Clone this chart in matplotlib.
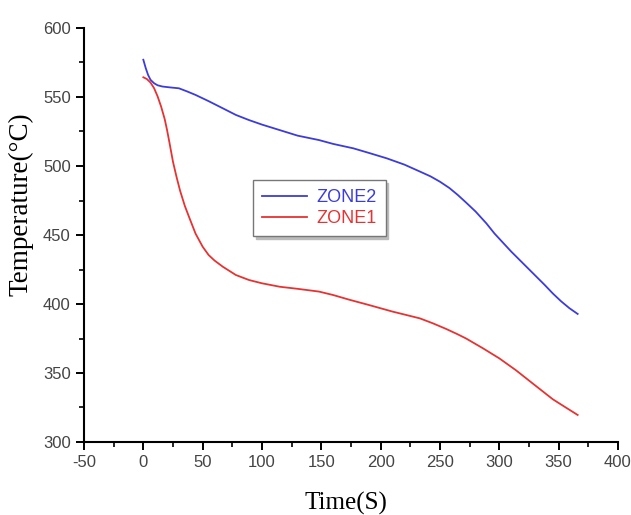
import matplotlib
matplotlib.use("Agg")
import matplotlib.pyplot as plt
from matplotlib.ticker import MultipleLocator

plt.rcParams["axes.unicode_minus"] = False

time_z2 = [0, 2, 4, 6, 9, 12, 16, 22, 30, 37, 44, 55, 67, 78, 89, 100, 115, 130, 148, 160,
           177, 190, 205, 220, 233, 242, 250, 258, 265, 272, 280, 289, 296, 303, 310, 317,
           324, 331, 338, 345, 352, 359, 366]
temp_z2 = [577, 571, 566, 562.5, 560, 558.5, 557.6, 557, 556.3, 554, 551.5, 547, 541.8, 537,
           533.3, 530, 526, 522, 518.8, 516, 512.8, 509.5, 505.6, 501, 496, 492.5, 488.6, 484,
           479, 473.5, 467, 458.5, 451, 444.5, 438, 432, 426, 420, 414, 407.7, 402, 397, 392.8]

time_z1 = [0, 3, 6, 9, 12, 15, 18, 20, 22, 25, 28, 31, 35, 39, 44, 50, 55, 60, 67, 78, 89,
           100, 115, 130, 148, 160, 174, 190, 210, 233, 244, 255, 265, 272, 286, 300, 314, 328,
           345, 356, 366]
temp_z1 = [564.3, 563, 560.5, 556.5, 550.5, 543, 534, 526, 517, 503, 492, 482, 471, 462, 451,
           441.5, 435.5, 431.5, 427, 421, 417.4, 415, 412.5, 411, 409, 406.5, 403, 399.3, 394.5,
           389.6, 386, 382, 378, 375, 368, 360.6, 352, 342.5, 331, 325, 319.6]

x_ticks = [-50, 0, 50, 100, 150, 200, 250, 300, 350, 400]
y_ticks = [300, 350, 400, 450, 500, 550, 600]

fig = plt.figure(figsize=(6.31, 5.15), dpi=100)
ax = fig.add_axes([84/631, 1-442/515, 534/631, 414/515])

ax.plot(time_z2, temp_z2, color="#3c3cdc", lw=1.3, label="ZONE2")
ax.plot(time_z1, temp_z1, color="#e83232", lw=1.3, label="ZONE1")

ax.set_xlim(-50, 400)
ax.set_ylim(300, 600)
ax.set_xticks(x_ticks)
ax.set_yticks(y_ticks)
ax.xaxis.set_minor_locator(MultipleLocator(25))
ax.yaxis.set_minor_locator(MultipleLocator(25))

for s in ["top", "right"]:
    ax.spines[s].set_visible(False)
for s in ["left", "bottom"]:
    ax.spines[s].set_linewidth(1.5)

ax.tick_params(which="major", direction="out", length=6, width=1.4, color="black",
               labelsize=12, labelcolor="#444444")
ax.tick_params(which="minor", direction="out", length=3.5, width=1.2, color="black")
for lab in ax.get_xticklabels() + ax.get_yticklabels():
    lab.set_fontfamily("Liberation Sans")

ax.set_xlabel("Time(S)", fontfamily="Liberation Serif", fontsize=18)
ax.set_ylabel("Temperature(°C)", fontfamily="Liberation Serif", fontsize=19.5)
ax.yaxis.set_label_coords(-0.095, 0.575)
ax.xaxis.set_label_coords(0.49, -0.12)

leg = ax.legend(loc="upper left", bbox_to_anchor=(0.30, 0.655), fancybox=False,
                shadow={"color": "#bbbbbb", "alpha": 1}, edgecolor="#777777", framealpha=1,
                prop={"family": "Liberation Sans", "size": 13},
                handlelength=2.5, borderpad=0.5, labelspacing=0.25, handletextpad=0.5)
leg.get_frame().set_linewidth(1.0)
for txt, line in zip(leg.get_texts(), leg.get_lines()):
    txt.set_color(line.get_color())

fig.savefig("out.png", dpi=100)
